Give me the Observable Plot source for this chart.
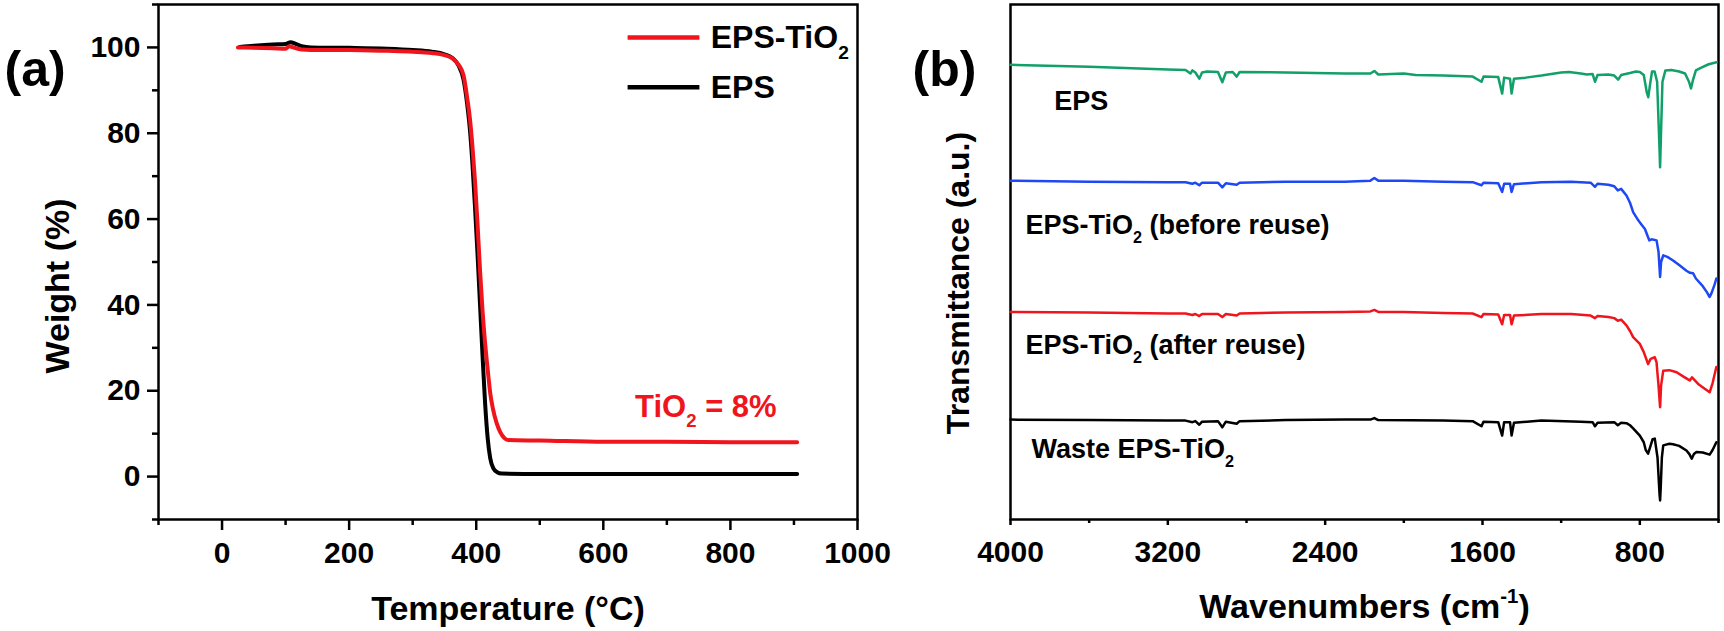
<!DOCTYPE html>
<html><head><meta charset="utf-8">
<script src="https://cdn.jsdelivr.net/npm/d3@7"></script>
<script src="https://cdn.jsdelivr.net/npm/@observablehq/plot@0.6"></script>
<style>
html,body{margin:0;padding:0;background:#fff;}
#wrap{position:relative;width:1724px;height:631px;overflow:hidden;background:#fff;}
#pa,#pb{position:absolute;top:0;}
#pa{left:0;} #pb{left:862px;}
</style></head><body><div id="wrap"><div id="pa"></div><div id="pb"></div></div>
<script>
// ---------- Panel (a): TGA, [temperature °C, weight %] ----------
const tgaEPS = [[28,100.1],[50,100.4],[80,100.7],[100,100.8],[108,101.2],[115,100.9],[125,100.3],[140,100.0],[200,99.9],[260,99.7],[300,99.4],[330,99.0],[350,98.4],[362,97.6],[372,95.8],[380,92.5],[386,86.5],[390,81],[394,73],[398,63],[402,52],[406,40],[410,28],[414,17],[418,9],[422,4.3],[427,1.9],[433,1.0],[440,0.7],[500,0.6],[600,0.6],[700,0.6],[800,0.6],[905,0.6]];
const tgaTiO2 = [[25,100.0],[50,99.9],[80,99.8],[100,99.7],[106,100.3],[112,100.0],[125,99.5],[140,99.4],[200,99.4],[260,99.2],[300,99.0],[330,98.7],[350,98.2],[362,97.5],[372,96.0],[380,93.5],[386,88],[390,83.5],[394,77],[398,69],[402,59],[406,48],[410,38.5],[414,31],[418,25],[422,19.5],[426,16],[432,12.5],[438,10.3],[444,9.0],[450,8.5],[500,8.4],[600,8.1],[700,8.1],[800,8.0],[905,8.0]];
const tgaXTicks = [0,200,400,600,800,1000];
const tgaXMinor = [-100,100,300,500,700,900];
const tgaYTicks = [0,20,40,60,80,100];
const tgaYMinor = [-10,10,30,50,70,90,110];
const tgaLegend = ["EPS-TiO_{2}","EPS"];
const tgaNote = "TiO_{2} = 8%";

// ---------- Panel (b): FTIR, [wavenumber cm-1, transmittance a.u.] ----------
const ftirEPS = [[4000,88.3],[3600,87.9],[3200,87.4],[3110,87.3],[3085,86.6],[3075,87.2],[3060,86.8],[3040,85.6],[3026,86.8],[3000,87.0],[2945,86.9],[2923,84.9],[2905,86.8],[2870,86.9],[2850,86.0],[2835,86.9],[2600,86.8],[2300,86.6],[2170,86.6],[2150,87.1],[2130,86.4],[2000,86.6],[1940,86.3],[1800,86.2],[1650,86.0],[1605,85.0],[1595,86.0],[1520,85.9],[1500,82.7],[1490,85.8],[1460,85.6],[1452,82.7],[1440,85.6],[1380,85.8],[1300,86.2],[1200,86.8],[1160,86.9],[1100,86.6],[1070,86.4],[1040,86.5],[1028,85.0],[1015,86.3],[960,86.4],[930,86.2],[910,85.4],[895,86.3],[850,86.7],[820,87.0],[800,86.9],[780,86.3],[765,83.0],[757,82.0],[748,84.5],[738,87.0],[725,87.0],[712,85.0],[700,72.0],[697,68.4],[693,74.0],[685,85.0],[670,87.2],[640,87.3],[600,87.0],[570,86.6],[550,85.0],[540,83.7],[530,85.3],[515,87.2],[490,87.7],[450,88.4],[410,88.8]];
const ftirBefore = [[4000,65.8],[3600,65.6],[3200,65.5],[3110,65.5],[3075,65.2],[3060,65.4],[3040,64.9],[3026,65.4],[2945,65.4],[2923,64.5],[2905,65.3],[2850,65.0],[2835,65.4],[2600,65.6],[2300,65.6],[2170,65.8],[2150,66.3],[2130,65.8],[2000,65.8],[1800,65.6],[1650,65.5],[1605,64.9],[1595,65.4],[1520,65.3],[1500,63.6],[1490,65.2],[1460,65.2],[1452,63.6],[1440,65.1],[1300,65.5],[1150,65.6],[1050,65.4],[1028,64.6],[1015,65.2],[960,65.0],[930,64.7],[912,63.9],[895,64.2],[868,62.9],[850,61.5],[834,59.7],[808,58.1],[790,57.2],[774,56.4],[760,55.0],[752,54.2],[740,54.4],[715,54.2],[705,52.0],[697,47.1],[692,50.0],[681,51.3],[660,51.0],[631,50.3],[600,49.4],[563,48.3],[545,47.9],[529,47.8],[515,46.8],[480,45.3],[460,44.2],[445,43.2],[435,44.0],[420,45.6],[411,46.8]];
const ftirAfter = [[4000,40.3],[3600,40.2],[3200,40.0],[3110,40.0],[3075,39.7],[3060,39.9],[3040,39.5],[3026,39.9],[2945,39.9],[2923,39.3],[2905,39.9],[2850,39.6],[2835,40.0],[2600,40.2],[2300,40.3],[2170,40.4],[2150,40.7],[2130,40.3],[2000,40.3],[1800,40.1],[1650,40.0],[1605,39.3],[1595,39.9],[1520,39.8],[1500,37.9],[1490,39.7],[1460,39.7],[1452,37.9],[1440,39.6],[1300,39.9],[1150,39.9],[1050,39.6],[1028,39.1],[1015,39.5],[960,39.3],[930,39.1],[912,38.6],[895,38.8],[868,37.7],[850,36.6],[834,35.4],[800,34.1],[780,32.5],[758,30.2],[745,31.2],[724,31.5],[715,30.5],[705,26.0],[697,21.8],[692,26.0],[681,28.9],[650,29.0],[613,28.6],[580,27.8],[555,27.2],[546,27.0],[535,27.6],[525,27.2],[500,26.2],[470,25.4],[445,24.7],[430,26.5],[411,29.6]];
const ftirWaste = [[4000,19.4],[3600,19.3],[3200,19.2],[3110,19.2],[3075,18.9],[3060,19.1],[3040,18.4],[3026,19.0],[2945,19.1],[2923,17.9],[2905,19.0],[2850,18.6],[2835,19.1],[2600,19.3],[2300,19.4],[2170,19.4],[2150,19.7],[2130,19.3],[1800,19.2],[1650,19.1],[1605,18.1],[1595,19.0],[1520,18.9],[1500,16.3],[1490,18.9],[1460,18.9],[1452,16.3],[1440,18.8],[1300,19.2],[1100,19.0],[1040,18.9],[1028,18.1],[1015,18.8],[930,18.9],[912,18.3],[895,18.8],[868,18.7],[850,18.3],[834,17.7],[800,16.3],[780,15.0],[770,13.5],[758,12.8],[748,14.0],[735,15.6],[724,15.7],[710,12.0],[700,5.0],[697,3.7],[694,6.0],[688,12.0],[681,14.4],[650,14.7],[631,14.6],[600,14.3],[563,13.4],[548,12.7],[536,11.8],[525,12.7],[512,13.1],[480,13.0],[445,12.6],[430,13.5],[411,15.0]];
const ftirXTicks = [4000,3200,2400,1600,800];
const ftirXMinor = [3600,2800,2000,1200,400];
const ftirLabels = ["EPS","EPS-TiO_{2} (before reuse)","EPS-TiO_{2} (after reuse)","Waste EPS-TiO_{2}"];

// ---------- styling ----------
const RED = "#f0141c", BLACK = "#000000", GREEN = "#12a06a", BLUE = "#1f48f5";
const FONT = "'Liberation Sans', Arial, Helvetica, sans-serif";
const baseStyle = {fontFamily: FONT, fontWeight: "bold", color: "black", background: "transparent", overflow: "visible"};
const fmt = d => `${d}`;
const B = "bold";

// annotation placement (data units of each panel)
const legendPos = {x1: 639, x2: 752, tx: 769, rows: [102.3, 90.7]};
const notePos = {x: 650, y: 14};
const ftirLabelPos = [[3777,79.6],[3924,55.5],[3924,32.2],[3893,12.0]];

const pa = Plot.plot({
  width: 862, height: 631,
  marginLeft: 158, marginRight: 5, marginTop: 4, marginBottom: 112,
  x: {domain: [-100, 1000]},
  y: {domain: [-10, 110]},
  style: baseStyle,
  marks: [
    Plot.axisX({ticks: tgaXTicks, tickFormat: fmt, tickSize: 11, tickPadding: 11, fontSize: 30, fontWeight: B, strokeWidth: 2.5, label: null}),
    Plot.axisX({ticks: tgaXMinor, tickFormat: () => "", tickSize: 6, strokeWidth: 2.5, label: null}),
    Plot.axisY({ticks: tgaYTicks, tickFormat: fmt, tickSize: 11, tickPadding: 7, fontSize: 30, fontWeight: B, strokeWidth: 2.5, label: null}),
    Plot.axisY({ticks: tgaYMinor, tickFormat: () => "", tickSize: 6, strokeWidth: 2.5, label: null}),
    Plot.frame({stroke: BLACK, strokeWidth: 2.5}),
    Plot.line(tgaEPS, {x: d => d[0], y: d => d[1], stroke: BLACK, strokeWidth: 4, curve: "monotone-x", strokeLinejoin: "round"}),
    Plot.line(tgaTiO2, {x: d => d[0], y: d => d[1], stroke: RED, strokeWidth: 4, curve: "monotone-x", strokeLinejoin: "round"}),
    ...tgaLegend.map((lab, i) => Plot.ruleY([legendPos.rows[i]], {x1: legendPos.x1, x2: legendPos.x2, stroke: i === 0 ? RED : BLACK, strokeWidth: 4.5})),
    ...tgaLegend.map((lab, i) => Plot.text([lab], {x: legendPos.tx, y: legendPos.rows[i], text: d => d, textAnchor: "start", lineAnchor: "middle", fontSize: 32, fontWeight: B, fill: BLACK})),
    Plot.text([tgaNote], {x: notePos.x, y: notePos.y, text: d => d, textAnchor: "start", lineAnchor: "bottom", fontSize: 31, fontWeight: B, fill: RED}),
    Plot.text(["Temperature (°C)"], {text: d => d, frameAnchor: "bottom", dy: 100, textAnchor: "middle", lineAnchor: "bottom", fontSize: 34, fontWeight: B, fill: BLACK}),
    Plot.text(["Weight (%)"], {text: d => d, frameAnchor: "left", rotate: -90, dx: -90, dy: 24, textAnchor: "middle", lineAnchor: "bottom", fontSize: 34, fontWeight: B, fill: BLACK}),
    Plot.text(["(a)"], {text: d => d, frameAnchor: "top-left", dx: -154, dy: 81, textAnchor: "start", lineAnchor: "bottom", fontSize: 50, fontWeight: B, fill: BLACK})
  ]
});

const ftirSeries = [[ftirEPS, GREEN], [ftirBefore, BLUE], [ftirAfter, RED], [ftirWaste, BLACK]];
const pb = Plot.plot({
  width: 862, height: 631,
  marginLeft: 148, marginRight: 6, marginTop: 4, marginBottom: 112,
  x: {domain: [4000, 400]},
  y: {domain: [0, 100], axis: null},
  style: baseStyle,
  marks: [
    Plot.axisX({ticks: ftirXTicks, tickFormat: fmt, tickSize: 6, tickPadding: 15, fontSize: 30, fontWeight: B, strokeWidth: 2.5, label: null}),
    Plot.axisX({ticks: ftirXMinor, tickFormat: () => "", tickSize: 4, strokeWidth: 2.5, label: null}),
    Plot.frame({stroke: BLACK, strokeWidth: 2.5}),
    ...ftirSeries.map(([data, c]) => Plot.line(data, {x: d => d[0], y: d => d[1], stroke: c, strokeWidth: 2.5, strokeLinejoin: "round"})),
    ...ftirLabels.map((lab, i) => Plot.text([lab], {x: ftirLabelPos[i][0], y: ftirLabelPos[i][1], text: d => d, textAnchor: "start", lineAnchor: "bottom", fontSize: 27, fontWeight: B, fill: BLACK})),
    Plot.text(["Wavenumbers (cm^{-1})"], {text: d => d, frameAnchor: "bottom", dy: 98, textAnchor: "middle", lineAnchor: "bottom", fontSize: 34, fontWeight: B, fill: BLACK}),
    Plot.text(["Transmittance (a.u.)"], {text: d => d, frameAnchor: "left", rotate: -90, dx: -42, dy: 21, textAnchor: "middle", lineAnchor: "bottom", fontSize: 32, fontWeight: B, fill: BLACK}),
    Plot.text(["(b)"], {text: d => d, frameAnchor: "top-left", dx: -98, dy: 81, textAnchor: "start", lineAnchor: "bottom", fontSize: 50, fontWeight: B, fill: BLACK})
  ]
});

document.getElementById("pa").appendChild(pa);
document.getElementById("pb").appendChild(pb);

// turn _{..} and ^{..} into real subscript / superscript tspans
function richText(root) {
  const NS = "http://www.w3.org/2000/svg";
  root.querySelectorAll("text").forEach(t => {
    if (t.querySelector("tspan")) return;
    const s = t.textContent;
    if (!/[_^]\{/.test(s)) return;
    const fs = parseFloat(getComputedStyle(t).fontSize) || 30;
    const parts = s.split(/([_^]\{[^}]*\})/).filter(p => p !== "");
    t.textContent = "";
    let shift = 0;
    for (const p of parts) {
      const ts = document.createElementNS(NS, "tspan");
      let target = 0, txt = p, small = false;
      if (p.startsWith("_{")) { target = 0.34 * fs; txt = p.slice(2, -1); small = true; }
      else if (p.startsWith("^{")) { target = -0.42 * fs; txt = p.slice(2, -1); small = true; }
      const d = target - shift;
      if (d) ts.setAttribute("dy", d);
      shift = target;
      if (small) ts.setAttribute("font-size", (0.6 * fs).toFixed(1));
      ts.textContent = txt;
      t.appendChild(ts);
    }
  });
}
richText(pa);
richText(pb);
</script></body></html>
